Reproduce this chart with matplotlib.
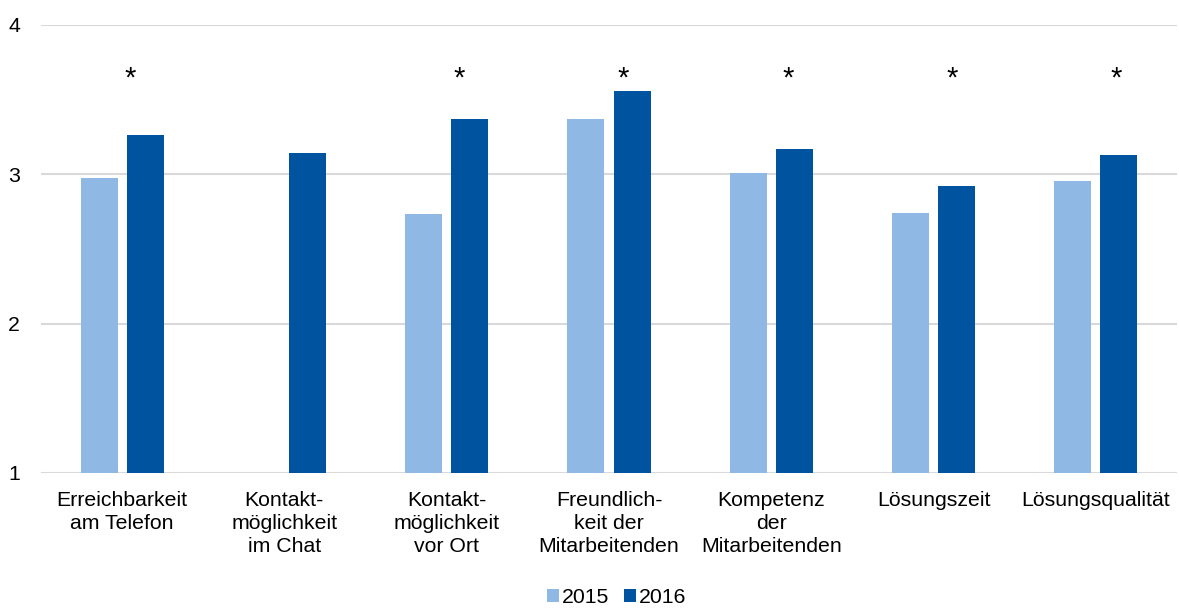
import numpy as np
import matplotlib
matplotlib.use("Agg")
import matplotlib.pyplot as plt

plt.rcParams['font.family'] = ['Liberation Sans', 'DejaVu Sans']

categories = ["Erreichbarkeit\nam Telefon", "Kontakt-\nmöglichkeit\nim Chat",
              "Kontakt-\nmöglichkeit\nvor Ort", "Freundlich-\nkeit der\nMitarbeitenden",
              "Kompetenz\nder\nMitarbeitenden", "Lösungszeit", "Lösungsqualität"]
values_2015 = [2.975, np.nan, 2.73, 3.365, 3.01, 2.74, 2.95]
values_2016 = [3.26, 3.14, 3.37, 3.556, 3.17, 2.92, 3.13]
significant = [True, False, True, True, True, True, True]
series_labels = ["2015", "2016"]

LIGHT = "#8FB9E4"
DARK = "#00539F"
FS = 15.3

fig = plt.figure(figsize=(11.79, 6.08), dpi=100)
ax = fig.add_axes([41 / 1179, 135 / 608, 1136 / 1179, 448.5 / 608])

x = np.arange(len(categories))
w = 0.228
off = 0.142
ax.bar(x - off, values_2015, w, bottom=0, color=LIGHT, label=series_labels[0], zorder=2)
ax.bar(x + off, values_2016, w, bottom=0, color=DARK, label=series_labels[1], zorder=2)

# significance markers
for i, s in enumerate(significant):
    if s:
        ax.text(i * 1.013 + 0.05, 3.585, "*", ha='center', va='baseline', fontsize=21, color='black')

ax.set_xlim(-0.5, len(categories) - 0.5)
ax.set_ylim(1, 4)
ax.set_yticks([1, 2, 3, 4])
ax.set_xticks(x)
ax.set_xticklabels(categories, linespacing=1.27)
ax.tick_params(axis='x', length=0, pad=13, labelsize=FS)
ax.tick_params(axis='y', length=0, pad=15, labelsize=FS)
ax.grid(axis='y', color='#D9D9D9', linewidth=1.5, zorder=0)
ax.set_axisbelow(True)
for sp in ax.spines.values():
    sp.set_visible(False)

fig.legend(loc='center', bbox_to_anchor=(0.523, 0.017), ncol=2, frameon=False, fontsize=FS,
           handlelength=0.55, handleheight=0.55, handletextpad=0.15, columnspacing=0.7)

fig.savefig("out.png", dpi=100)
